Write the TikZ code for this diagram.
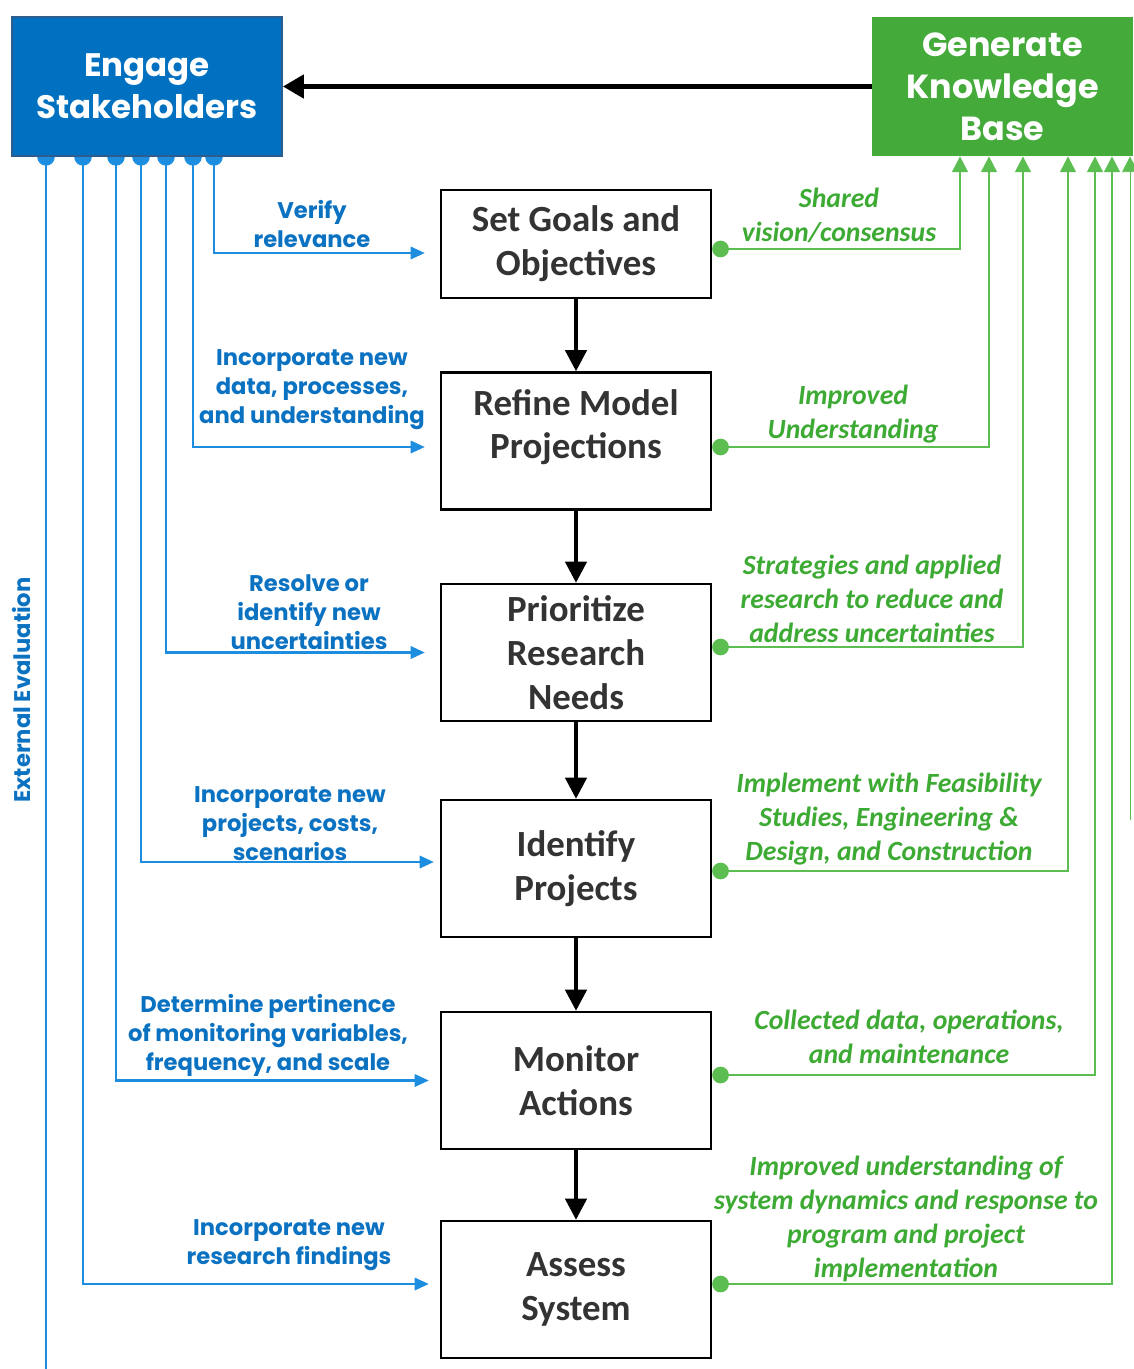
\documentclass[tikz,border=0pt]{standalone}
\usepackage{fontspec}
\setmainfont{Carlito}
\newfontfamily\gothic{Poppins}
\usetikzlibrary{arrows.meta,backgrounds}

\definecolor{engblue}{HTML}{0070C0}
\definecolor{engedge}{HTML}{2F5C8F}
\definecolor{lineblue}{HTML}{1C8DDF}
\definecolor{txtblue}{HTML}{0B72C2}
\definecolor{kbgreen}{HTML}{44AA3A}
\definecolor{linegreen}{HTML}{5CBE50}
\definecolor{txtgreen}{HTML}{3DAA34}
\definecolor{boxtext}{HTML}{333333}

\tikzset{
  stepbox/.style={draw=black, line width=1.4pt, minimum width=5.4cm, minimum height=2.74cm,
    align=center, text=boxtext, font=\fontsize{21}{25}\selectfont\bfseries},
  headbox/.style={minimum width=5.4cm, minimum height=2.78cm, align=center, text=white,
    font=\gothic\fontsize{18.5}{24}\selectfont\bfseries},
  flow/.style={line width=2.3pt, -{Triangle[length=12pt,width=12pt]}},
  bigflow/.style={line width=3.4pt, -{Triangle[length=12pt,width=13pt]}},
  bluewire/.style={lineblue, line width=1.3pt, shorten <=-5pt},
  feedin/.style={bluewire, {Circle[length=10pt]}-{Triangle[length=8pt,width=7pt]}, shorten >=0.3cm},
  feedout/.style={linegreen, line width=1.1pt, {Circle[length=9.5pt]}-{Triangle[length=9pt,width=9pt]}},
  bluelabel/.style={text=txtblue, align=center, font=\gothic\fontsize{12.9}{16.5}\selectfont\bfseries},
  greenlabel/.style={text=txtgreen, align=center, font=\fontsize{15.8}{19.3}\selectfont\bfseries\itshape},
}

\begin{document}
\begin{tikzpicture}[x=0.02cm, y=-0.02cm]
\useasboundingbox (0,0) rectangle (1133,1369);

% top boxes
\node[headbox, fill=engblue, draw=engedge, line width=1pt] (eng) at (147,86.5) {Engage\\Stakeholders};
\node[headbox, fill=kbgreen, minimum width=5.22cm, font=\gothic\fontsize{19}{24}\selectfont\bfseries] (kb) at (1002.5,86.5) {Generate\\Knowledge\\Base};
\draw[bigflow] (kb) -- (eng);

% main steps
\node[stepbox, minimum height=2.16cm] (goals) at (576,244) {Set Goals and\\Objectives};
\node[stepbox] (refine) at (576,441) {Refine Model\\Projections\\[-0.2cm]\mbox{}};
\node[stepbox] (prior) at (576,652.5) {Prioritize\\Research\\Needs};
\node[stepbox] (ident) at (576,868.5) {Identify\\Projects};
\node[stepbox] (monit) at (576,1080.5) {Monitor\\Actions};
\node[stepbox] (assess) at (576,1289.5) {Assess\\System};

\draw[flow] (goals) -- (refine);
\draw[flow] (refine) -- (prior);
\draw[flow] (prior) -- (ident);
\draw[flow] (ident) -- (monit);
\draw[flow] (monit) -- (assess);

% stakeholder inputs
\node[bluelabel] (lverify) at (312,224) {Verify\\relevance};
\node[bluelabel] (ldata) at (312,390) {Incorporate new\\data, processes,\\and understanding};
\node[bluelabel] (lresolve) at (309,612) {Resolve or\\identify new\\uncertainties};
\node[bluelabel] (lproj) at (290,824) {Incorporate new\\projects, costs,\\scenarios};
\node[bluelabel] (lmonit) at (268,1035) {Determine pertinence\\of monitoring variables,\\frequency, and scale};
\node[bluelabel] (lfind) at (289,1245) {Incorporate new\\research findings};
\node[bluelabel, rotate=90] (leval) at (22,690) {External Evaluation};
\coordinate (evalend) at (46,1369);

% knowledge outputs
\node[greenlabel] (lshared) at (839,215) {Shared\\vision/consensus};
\node[greenlabel] (lunder) at (853,414) {Improved\\Understanding};
\node[greenlabel] (lstrat) at (872,599) {Strategies and applied\\research to reduce and\\address uncertainties};
\node[greenlabel] (limpl) at (889,819) {Implement with Feasibility\\Studies, Engineering \&\\Design, and Construction};
\node[greenlabel] (lcoll) at (909,1037) {Collected data, operations,\\and maintenance};
\node[greenlabel] (lsys) at (906,1219) {Improved understanding of\\system dynamics and response to\\program and project\\implementation};
\coordinate (edgeline) at (1130,820);

\begin{scope}[on background layer]
  \draw[feedin] (eng.south -| 214,0) |- ([yshift=-0.18cm]goals.west);
  \draw[feedin] (eng.south -| 193,0) |- ([yshift=-0.12cm]refine.west);
  \draw[feedin] (eng.south -| 166,0) |- (prior.west);
  \draw[feedin, shorten >=0.12cm] (eng.south -| 141,0) |- ([yshift=0.13cm]ident.west);
  \draw[feedin, shorten >=0.22cm] (eng.south -| 116,0) |- (monit.west);
  \draw[feedin, shorten >=0.22cm] (eng.south -| 83,0) |- ([yshift=0.11cm]assess.west);
  \draw[bluewire, {Circle[length=10pt]}-] (eng.south -| 46,0) -- (evalend);

  \draw[feedout] ([yshift=-0.1cm]goals.east) -| (kb.south -| 960,0);
  \draw[feedout] ([yshift=-0.12cm]refine.east) -| (kb.south -| 989,0);
  \draw[feedout] ([yshift=0.11cm]prior.east) -| (kb.south -| 1023,0);
  \draw[feedout] ([yshift=-0.05cm]ident.east) -| (kb.south -| 1068,0);
  \draw[feedout] ([yshift=0.11cm]monit.east) -| (kb.south -| 1095,0);
  \draw[feedout] ([yshift=0.11cm]assess.east) -| (kb.south -| 1112,0);
  \draw[linegreen, line width=0.5pt, -{Triangle[length=9pt,width=9pt]}] (edgeline) -- (kb.south -| 1130,0);
\end{scope}
\end{tikzpicture}
\end{document}
